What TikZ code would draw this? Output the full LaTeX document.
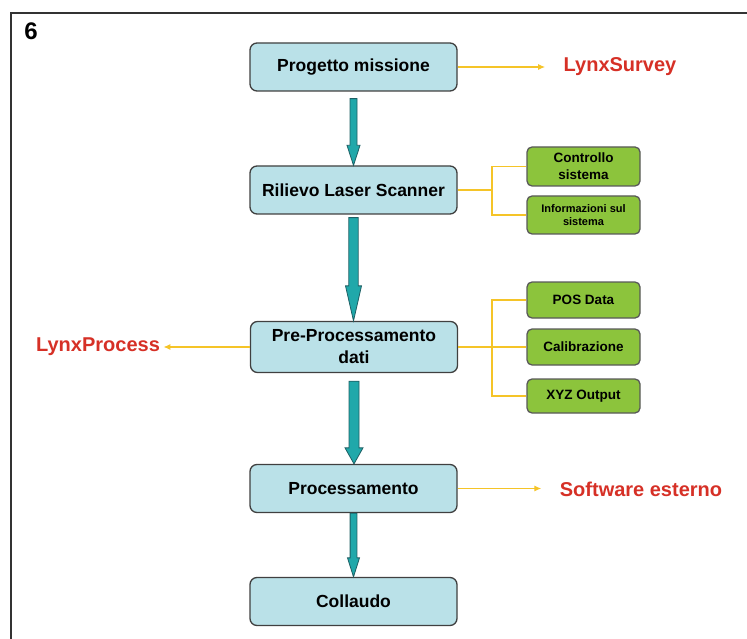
\documentclass[tikz,border=0pt]{standalone}
\usepackage{fontspec}
\setmainfont{Liberation Sans}
\usepackage{tikz}
\usetikzlibrary{calc,arrows.meta}
\usepackage{xcolor}

\definecolor{boxblue}{RGB}{186,225,232}
\definecolor{boxgreen}{RGB}{140,196,60}
\definecolor{flowteal}{RGB}{32,168,170}
\definecolor{flowedge}{RGB}{30,95,100}
\definecolor{feedyellow}{RGB}{245,196,40}
\definecolor{toolred}{RGB}{214,48,38}

% from, to, half shaft, half head, head length, gap
\newcommand\flowarrow[6]{%
  \path[flow] let \p1=(#1.south), \p2=(#2.north) in
    (\x1-#3,\y1-#6) -- (\x1-#3,\y2+#5) -- (\x1-#4,\y2+#5) -- (\x1,\y2)
    -- (\x1+#4,\y2+#5) -- (\x1+#3,\y2+#5) -- (\x1+#3,\y1-#6) -- cycle;}

\begin{document}
\begin{tikzpicture}[
          x=1pt,y=-1pt,
          stage/.style={draw=black!75,line width=1.3pt,fill=boxblue,rounded corners=7pt,
            minimum width=207pt,minimum height=48pt,align=center,
            font=\bfseries\fontsize{17.5}{22}\selectfont},
          detail/.style={draw=black!65,line width=1.3pt,fill=boxgreen,rounded corners=5pt,
            minimum width=113pt,minimum height=36pt,align=center,
            font=\bfseries\fontsize{13.5}{17}\selectfont},
          tool/.style={text=toolred,font=\bfseries\fontsize{20}{22}\selectfont},
          feed/.style={draw=feedyellow,line width=1.2pt},
          flow/.style={fill=flowteal,draw=flowedge,line width=0.8pt},
        ]
        \useasboundingbox (0,0) rectangle (747,639);
        \draw[line width=1.5pt,black!80] (11,639) -- (11,13) -- (747,13);
        \node[font=\bfseries\fontsize{24}{24}\selectfont] (num) at (31,31) {6};

        \node[stage] (proj) at (353.5,67)    {Progetto missione};
        \node[stage] (ril)  at (353.5,190)   {Rilievo Laser Scanner};
        \node[stage,minimum height=51pt] (pre) at (354,347) {Pre-Processamento\\dati};
        \node[stage] (proc) at (353.5,488.5) {Processamento};
        \node[stage] (coll) at (353.5,601.5) {Collaudo};

        \node[detail,minimum height=39pt] (ctrl) at (583.5,166.5) {Controllo\\sistema};
        \node[detail,minimum height=38pt,font=\bfseries\fontsize{11}{13}\selectfont] (info) at (583.5,215) {Informazioni sul\\sistema};
        \node[detail] (pos) at (583.5,300) {POS Data};
        \node[detail] (cal) at (583.5,347) {Calibrazione};
        \node[detail,minimum height=34pt] (xyz) at (583.5,396) {XYZ Output};

        \node[tool] (lsurvey)  at (620,67)  {LynxSurvey};
        \node[tool] (lprocess) at (98,347)  {LynxProcess};
        \node[tool] (softext)  at (641,489) {Software esterno};

        \draw[feed,-{Latex[length=7pt,width=6pt]},shorten >=15pt] (proj.east) -- (proj.east -| lsurvey.west);
        \draw[feed,-{Latex[length=7pt,width=6pt]}] (pre.west) -- (pre.west -| lprocess.east);
        \draw[feed,-{Latex[length=7pt,width=6pt]},shorten >=15pt] (proc.east) -- (proc.east -| softext.west);

        \coordinate (ja) at (492,190);
        \draw[feed] (ril.east) -- (ja);
        \draw[feed] (ctrl.west) -| (ja) |- (info.west);
        \coordinate (jb) at (492,347);
        \draw[feed] (pre.east) -- (cal.west);
        \draw[feed] (pos.west) -| (jb) |- (xyz.west);

        \flowarrow{proj}{ril}{3.5pt}{6.5pt}{20pt}{7pt}
        \flowarrow{ril}{pre}{4.7pt}{8pt}{35pt}{3pt}
        \flowarrow{pre}{proc}{5pt}{9pt}{16pt}{8pt}
        \flowarrow{proc}{coll}{3.4pt}{6pt}{19pt}{0pt}
      \end{tikzpicture}
\end{document}
